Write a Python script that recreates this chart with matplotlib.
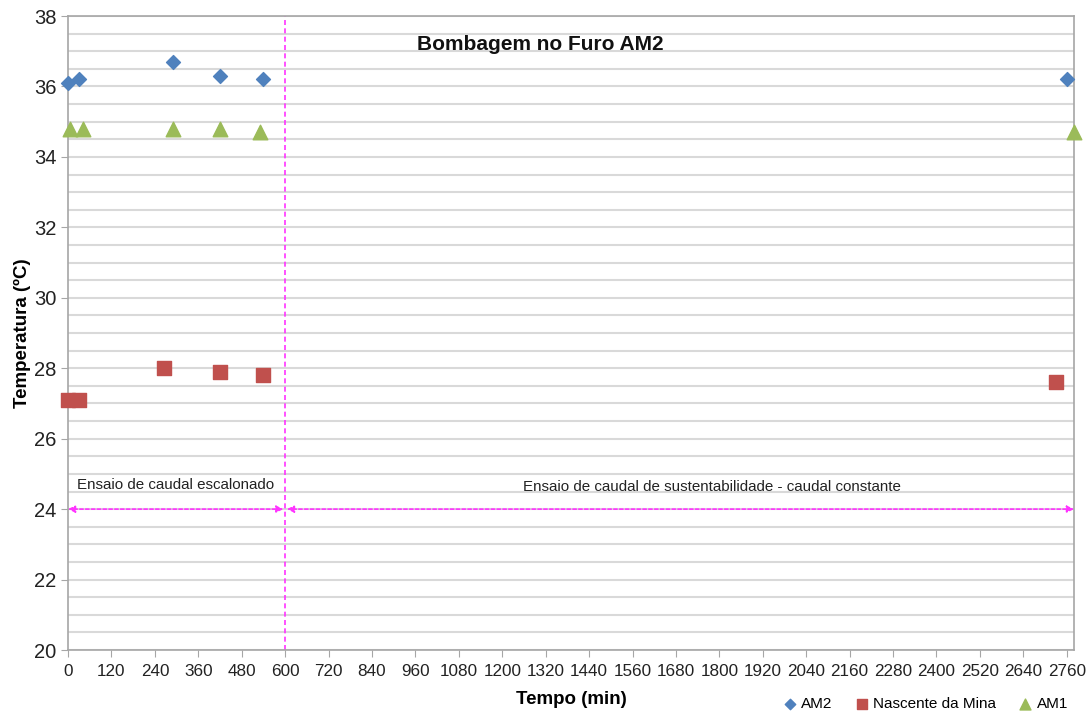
import matplotlib
matplotlib.use("Agg")
import matplotlib.pyplot as plt
from matplotlib.ticker import MultipleLocator

# Temperature readings during the pumping test (time in minutes, temperature in ºC)
am2_t = [0, 30, 290, 420, 540, 2760]
am2_temp = [36.1, 36.2, 36.7, 36.3, 36.2, 36.2]

mina_t = [0, 30, 265, 420, 540, 2730]
mina_temp = [27.1, 27.1, 28.0, 27.9, 27.8, 27.6]

am1_t = [5, 40, 290, 420, 530, 2780]
am1_temp = [34.8, 34.8, 34.8, 34.8, 34.7, 34.7]

x_ticks = list(range(0, 2761, 120))
y_ticks = list(range(20, 39, 2))

stage_split = 600
x_end = 2780

plt.rcParams["font.family"] = ["Liberation Sans", "DejaVu Sans"]

fig = plt.figure(figsize=(10.92, 7.15), dpi=100)
ax = fig.add_axes([0.0623, 0.0909, 0.9835 - 0.0623, 0.9776 - 0.0909])

grid_c = "#d9d9d9"
ax.set_xlim(0, x_end)
ax.set_ylim(20, 38)
ax.set_yticks(y_ticks)
ax.yaxis.set_minor_locator(MultipleLocator(0.5))
ax.set_xticks(x_ticks)
ax.grid(which="both", axis="y", color=grid_c, linewidth=1.5)
ax.set_axisbelow(True)
for s in ax.spines.values():
    s.set_color("#a6a6a6")
    s.set_linewidth(1.2)
ax.tick_params(axis="both", which="major", direction="out", length=5, color="#a6a6a6",
               labelcolor="#222222")
ax.tick_params(axis="y", which="major", labelsize=14.5)
ax.tick_params(axis="x", which="major", labelsize=12.3, pad=5)
ax.tick_params(axis="y", which="minor", length=0)

ax.scatter(am2_t, am2_temp, marker="D", s=50, color="#4F81BD", label="AM2", zorder=3,
           clip_on=False)
ax.scatter(mina_t, mina_temp, marker="s", s=110, color="#C0504D", label="Nascente da Mina",
           zorder=3, clip_on=False)
ax.scatter(am1_t, am1_temp, marker="^", s=110, color="#9BBB59", label="AM1", zorder=3,
           clip_on=False)

# stage boundary and range arrows
ax.axvline(stage_split, color="#FF33FF", linestyle=(0, (3, 2)), linewidth=1.2, zorder=2)
arrow_kw = dict(arrowstyle="<|-|>", color="#FF33FF", linestyle=(0, (2, 1.5)), linewidth=1.2,
                mutation_scale=10, shrinkA=0, shrinkB=0)
ax.annotate("", xy=(0, 24), xytext=(stage_split - 5, 24), arrowprops=arrow_kw, zorder=2)
ax.annotate("", xy=(stage_split + 5, 24), xytext=(x_end, 24), arrowprops=arrow_kw, zorder=2)

ax.text(296, 24.68, "Ensaio de caudal escalonado", ha="center", va="center", fontsize=10.9,
        color="#222222")
ax.text(1780, 24.62, "Ensaio de caudal de sustentabilidade - caudal constante", ha="center",
        va="center", fontsize=10.9, color="#222222")

ax.text(1305, 37.18, "Bombagem no Furo AM2", ha="center", va="center", fontsize=15,
        fontweight="bold", color="#111111")

ax.set_xlabel("Tempo (min)", fontsize=13.5, fontweight="bold", labelpad=9)
ax.set_ylabel("Temperatura (ºC)", fontsize=13.5, fontweight="bold", labelpad=2)

leg = ax.legend(loc="center", bbox_to_anchor=(926 / 1092, 1 - 704 / 715),
                bbox_transform=fig.transFigure, ncol=3, frameon=False, fontsize=11,
                handlelength=0.8, handletextpad=0.35, columnspacing=1.5, markerscale=0.75,
                borderpad=0)

fig.savefig("out.png", dpi=100, facecolor="white")
